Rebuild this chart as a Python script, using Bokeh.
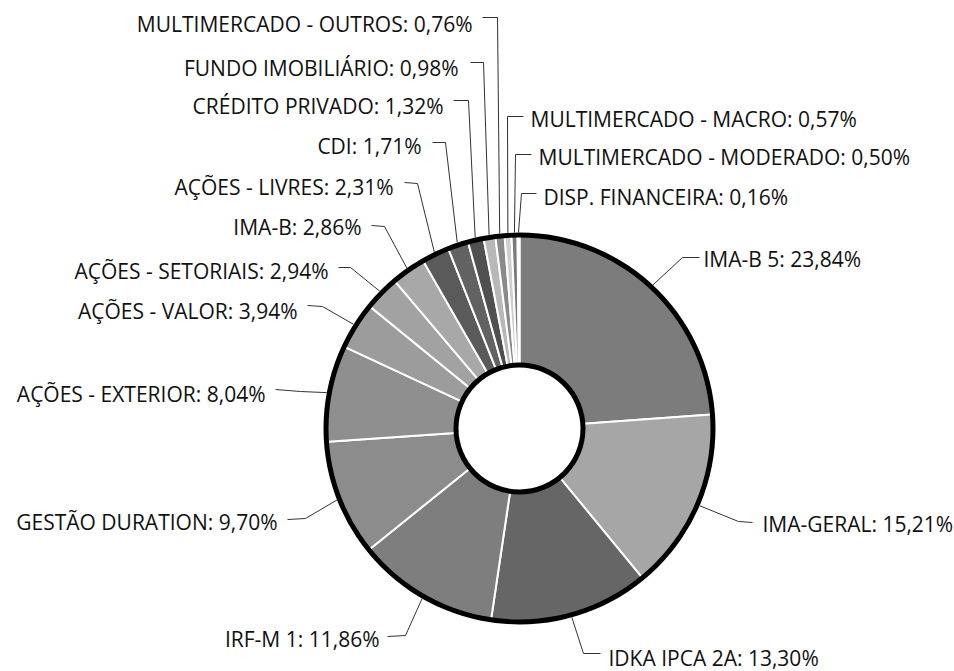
import math
from bokeh.plotting import figure
from bokeh.models import Range1d, ColumnDataSource
from bokeh.core.properties import value
from bokeh.embed import file_html
from bokeh.resources import INLINE

# ---- data (clockwise from 12 o'clock) ----
categories = ["IMA-B 5", "IMA-GERAL", "IDKA IPCA 2A", "IRF-M 1", "GESTÃO DURATION",
              "AÇÕES - EXTERIOR", "AÇÕES - VALOR", "AÇÕES - SETORIAIS", "IMA-B",
              "AÇÕES - LIVRES", "CDI", "CRÉDITO PRIVADO", "FUNDO IMOBILIÁRIO",
              "MULTIMERCADO - OUTROS", "MULTIMERCADO - MACRO",
              "MULTIMERCADO - MODERADO", "DISP. FINANCEIRA"]
shares = [23.84, 15.21, 13.30, 11.86, 9.70, 8.04, 3.94, 2.94, 2.86, 2.31, 1.71,
          1.32, 0.98, 0.76, 0.57, 0.50, 0.16]

# ---- styles ----
fills = ["#7c7c7c", "#a6a6a6", "#666666", "#7e7e7e", "#8c8c8c", "#8f8f8f", "#9c9c9c",
         "#a2a2a2", "#a8a8a8", "#5a5a5a", "#626262", "#505050", "#b8b8b8", "#8a8a8a",
         "#cfcfcf", "#7a7a7a", "#dcdcdc"]

# ---- layout (page pixels) ----
W, H = 954, 671
CX, CY = 519, 428
R_OUT, R_IN = 196, 61
TEXT_DY = -7  # renderer places alphabetic baseline slightly low

def Y(py):
    return H - py

# label anchor: (x, baseline, side); leader: start point, elbow point
label_pos = [(703, 265, "L"), (762, 530, "L"), (608, 664, "L"), (379, 645, "R"),
             (277, 528, "R"), (265, 400, "R"), (297, 317, "R"), (328, 277, "R"),
             (361, 233, "R"), (393, 193, "R"), (421, 152, "R"), (443, 112, "R"),
             (458, 74, "R"), (472, 30, "R"), (530, 125, "L"), (538, 163, "L"),
             (543, 203, "L")]
leader_start = [(699, 257), (752, 522), (600, 653), (387, 636), (287, 519), (275, 389),
                (307, 305), (338, 267), (371, 225), (404, 182), (432, 142), (453, 100),
                (470, 62), (482, 17), (523, 116), (531, 154), (536, 193)]
leader_elbow = [(682, 257), (738, 521), (583, 653), (405, 635), (305, 518), (300, 391),
                (322, 306), (350, 267), (384, 226), (417, 183), (445, 142), (468, 100),
                (483, 62), (497, 17), (507, 116), (515, 154), (521, 193)]

p = figure(width=W, height=H, output_backend="svg", toolbar_location=None,
           x_range=Range1d(0, W), y_range=Range1d(0, H),
           min_border=0, outline_line_color=None)
p.axis.visible = False
p.grid.visible = False
p.background_fill_color = "white"
p.border_fill_color = "white"

total = sum(shares)
starts, ends, mids = [], [], []
c = 0.0
for v in shares:
    s = c / total
    c += v
    e = c / total
    starts.append(math.pi / 2 - 2 * math.pi * s)
    ends.append(math.pi / 2 - 2 * math.pi * e)
    mids.append(2 * math.pi * (s + e) / 2)

src = ColumnDataSource(dict(start=starts, end=ends, fill=fills))
p.annular_wedge(x=CX, y=Y(CY), inner_radius=R_IN, outer_radius=R_OUT,
                start_angle="start", end_angle="end", direction="clock",
                fill_color="fill", line_color="white", line_width=2, source=src)

# black rings
p.annulus(x=CX, y=Y(CY), inner_radius=R_OUT - 5, outer_radius=R_OUT,
          fill_color="black", line_color=None)
p.annulus(x=CX, y=Y(CY), inner_radius=R_IN, outer_radius=R_IN + 5,
          fill_color="black", line_color=None)

# leaders
xs, ys = [], []
for i, m in enumerate(mids):
    ax = CX + R_OUT * math.sin(m)
    ay = Y(CY) + R_OUT * math.cos(m)
    sx, sy = leader_start[i]
    ex, ey = leader_elbow[i]
    xs.append([sx, ex, ax])
    ys.append([Y(sy), Y(ey), ay])
p.multi_line(xs, ys, line_color="#333333", line_width=1)

labels = [f"{n}: " + f"{v:.2f}".replace(".", ",") + "%" for n, v in zip(categories, shares)]
for side, align in (("L", "left"), ("R", "right")):
    idx = [i for i, lp in enumerate(label_pos) if lp[2] == side]
    p.text(x=[label_pos[i][0] for i in idx],
           y=[Y(label_pos[i][1] + TEXT_DY) for i in idx],
           text=[labels[i] for i in idx], text_align=align, text_baseline="alphabetic",
           text_font=value("Open Sans"), text_font_size="21px", text_color="#111111")

open("out.html", "w").write(file_html(p, INLINE))
